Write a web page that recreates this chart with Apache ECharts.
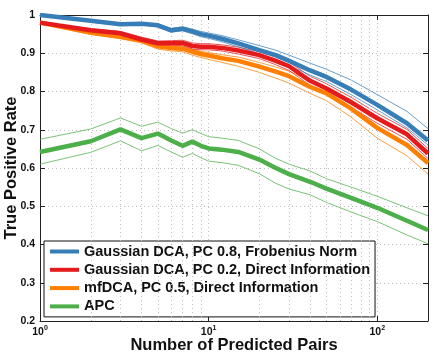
<!DOCTYPE html>
<html>
<head>
<meta charset="utf-8">
<script src="https://cdn.jsdelivr.net/npm/echarts@6/dist/echarts.min.js"></script>
<style>
  html, body { margin: 0; padding: 0; background: #fff; }
  #chart { width: 436px; height: 356px; }
</style>
</head>
<body>
<div id="chart"></div>
<script>
'use strict';

var pairs = [1, 2, 3, 4, 5, 6, 7, 8, 9, 10, 12, 15, 20, 25, 30, 40, 50, 70, 100, 150, 200];

// Gaussian DCA, PC 0.8, Frobenius Norm
var gaussFro      = [1.000, 0.985, 0.976, 0.977, 0.973, 0.960, 0.964, 0.957, 0.950, 0.946, 0.938, 0.926, 0.908, 0.895, 0.880, 0.855, 0.838, 0.805, 0.765, 0.717, 0.672];
var gaussFroHigh  = [1.000, 0.987, 0.979, 0.980, 0.977, 0.965, 0.969, 0.963, 0.957, 0.953, 0.946, 0.935, 0.920, 0.908, 0.895, 0.874, 0.858, 0.830, 0.792, 0.748, 0.703];
var gaussFroLow   = [0.998, 0.982, 0.973, 0.974, 0.969, 0.955, 0.959, 0.951, 0.943, 0.939, 0.930, 0.917, 0.898, 0.884, 0.868, 0.843, 0.826, 0.792, 0.752, 0.705, 0.660];

// Gaussian DCA, PC 0.2, Direct Information
var gaussDi       = [0.980, 0.960, 0.952, 0.936, 0.926, 0.926, 0.927, 0.919, 0.917, 0.917, 0.914, 0.907, 0.895, 0.880, 0.866, 0.828, 0.808, 0.772, 0.730, 0.688, 0.638];
var gaussDiHigh   = [0.982, 0.964, 0.957, 0.942, 0.932, 0.933, 0.934, 0.927, 0.925, 0.925, 0.922, 0.916, 0.904, 0.890, 0.877, 0.840, 0.820, 0.785, 0.743, 0.701, 0.651];
var gaussDiLow    = [0.978, 0.956, 0.947, 0.930, 0.920, 0.919, 0.920, 0.911, 0.909, 0.909, 0.906, 0.898, 0.886, 0.870, 0.855, 0.816, 0.796, 0.759, 0.717, 0.675, 0.625];

// mfDCA, PC 0.5, Direct Information
var mfDi          = [0.980, 0.954, 0.943, 0.933, 0.918, 0.914, 0.912, 0.904, 0.898, 0.894, 0.887, 0.880, 0.865, 0.852, 0.840, 0.812, 0.795, 0.755, 0.705, 0.660, 0.613];
var mfDiHigh      = [0.982, 0.958, 0.947, 0.938, 0.923, 0.919, 0.918, 0.910, 0.905, 0.902, 0.896, 0.890, 0.876, 0.864, 0.853, 0.828, 0.812, 0.778, 0.733, 0.688, 0.642];
var mfDiLow       = [0.977, 0.949, 0.938, 0.927, 0.911, 0.906, 0.904, 0.895, 0.889, 0.884, 0.876, 0.866, 0.850, 0.835, 0.822, 0.795, 0.776, 0.733, 0.678, 0.632, 0.584];

// APC
var apc           = [0.642, 0.670, 0.701, 0.678, 0.690, 0.672, 0.658, 0.669, 0.658, 0.651, 0.648, 0.642, 0.622, 0.600, 0.584, 0.564, 0.546, 0.522, 0.496, 0.462, 0.438];
var apcHigh       = [0.675, 0.702, 0.731, 0.709, 0.720, 0.703, 0.691, 0.700, 0.690, 0.682, 0.678, 0.672, 0.650, 0.625, 0.610, 0.592, 0.572, 0.550, 0.526, 0.496, 0.475];
var apcLow        = [0.610, 0.641, 0.671, 0.645, 0.659, 0.642, 0.628, 0.638, 0.627, 0.618, 0.614, 0.607, 0.585, 0.560, 0.545, 0.530, 0.510, 0.485, 0.460, 0.425, 0.402];

var names = [
    'Gaussian DCA, PC 0.8, Frobenius Norm',
    'Gaussian DCA, PC 0.2, Direct Information',
    'mfDCA, PC 0.5, Direct Information',
    'APC'
];
var colors = ['#377eb8', '#e41a1c', '#ff7f00', '#4daf4a'];

// minor log grid positions
var minorGrid = [2, 3, 4, 5, 6, 7, 8, 9, 20, 30, 40, 50, 60, 70, 80, 90];

var FONT = '"Liberation Sans", Arial, Helvetica, sans-serif';

function pairUp(values) {
    return pairs.map(function (x, i) { return [x, values[i]]; });
}

function mainLine(idx, values) {
    return {
        name: names[idx],
        type: 'line',
        data: pairUp(values),
        showSymbol: false,
        symbol: 'none',
        z: 5,
        lineStyle: { color: colors[idx], width: 4.5 },
        itemStyle: { color: colors[idx] }
    };
}

function bandLine(idx, values, tag) {
    return {
        name: names[idx] + ' ' + tag,
        type: 'line',
        data: pairUp(values),
        symbol: 'none',
        z: 3,
        silent: true,
        lineStyle: { color: colors[idx], width: 1, opacity: 0.75 }
    };
}

var chart = echarts.init(document.getElementById('chart'));

var tickStyle = { inside: true, length: 5, lineStyle: { color: '#222' } };
var axisLineStyle = { show: true, lineStyle: { color: '#222', width: 1 } };
var gridStyle = { show: true, lineStyle: { color: '#bdbdbd', type: [1, 3], width: 1 } };

var series = [
    bandLine(3, apcHigh, 'hi'), bandLine(3, apcLow, 'lo'),
    bandLine(2, mfDiHigh, 'hi'), bandLine(2, mfDiLow, 'lo'),
    bandLine(1, gaussDiHigh, 'hi'), bandLine(1, gaussDiLow, 'lo'),
    bandLine(0, gaussFroHigh, 'hi'), bandLine(0, gaussFroLow, 'lo'),
    mainLine(3, apc),
    mainLine(2, mfDi),
    mainLine(1, gaussDi),
    mainLine(0, gaussFro)
];

// dotted minor grid lines for the log axis
series[0].markLine = {
    silent: true,
    symbol: 'none',
    label: { show: false },
    lineStyle: { color: '#bdbdbd', type: [1, 3], width: 1 },
    data: minorGrid.map(function (v) { return { xAxis: v }; })
};

var option = {
    animation: false,
    backgroundColor: '#fff',
    grid: { left: 40, right: 8, top: 15, bottom: 35, containLabel: false, outerBoundsMode: 'none' },
    legend: {
        data: names,
        orient: 'vertical',
        left: 44,
        top: 241,
        icon: 'rect',
        itemWidth: 29,
        itemHeight: 4,
        itemGap: 3.3,
        padding: [3, 5, 3, 6],
        backgroundColor: '#fff',
        borderColor: '#111',
        borderWidth: 1,
        borderRadius: 0,
        textStyle: { fontFamily: FONT, fontWeight: 'bold', fontSize: 14.5, lineHeight: 15, color: '#111' }
    },
    xAxis: [{
        type: 'log',
        logBase: 10,
        min: 1,
        max: 200,
        name: 'Number of Predicted Pairs',
        nameLocation: 'middle',
        nameGap: 16,
        nameMoveOverlap: false,
        nameTextStyle: { fontFamily: FONT, fontWeight: 'bold', fontSize: 16.5, color: '#111' },
        axisLine: axisLineStyle,
        axisTick: tickStyle,
        splitLine: gridStyle,
        axisLabel: {
            margin: 4,
            formatter: function (v) {
                var e = Math.round(Math.log(v) / Math.LN10);
                if (Math.abs(Math.pow(10, e) - v) > 1e-6) { return ''; }
                return '{b|10}{s|' + e + '}';
            },
            rich: {
                b: { fontFamily: FONT, fontWeight: 'bold', fontSize: 10.5, color: '#111' },
                s: { fontFamily: FONT, fontWeight: 'bold', fontSize: 7, color: '#111', padding: [0, 0, 7, 0] }
            }
        }
    }, {
        type: 'log',
        logBase: 10,
        min: 1,
        max: 200,
        position: 'top',
        axisLine: axisLineStyle,
        axisTick: tickStyle,
        axisLabel: { show: false },
        splitLine: { show: false }
    }],
    yAxis: [{
        type: 'value',
        min: 0.2,
        max: 1,
        interval: 0.1,
        name: 'True Positive Rate',
        nameLocation: 'middle',
        nameGap: 20,
        nameMoveOverlap: false,
        nameTextStyle: { fontFamily: FONT, fontWeight: 'bold', fontSize: 16.5, color: '#111' },
        axisLine: axisLineStyle,
        axisTick: tickStyle,
        splitLine: gridStyle,
        axisLabel: {
            margin: 5,
            fontFamily: FONT,
            fontWeight: 'bold',
            fontSize: 10.5,
            color: '#111',
            formatter: function (v) {
                return Math.abs(v - 1) < 1e-9 ? '1' : v.toFixed(1);
            }
        }
    }, {
        type: 'value',
        min: 0.2,
        max: 1,
        interval: 0.1,
        position: 'right',
        axisLine: axisLineStyle,
        axisTick: tickStyle,
        axisLabel: { show: false },
        splitLine: { show: false }
    }],
    series: series
};

chart.setOption(option);
</script>
</body>
</html>
